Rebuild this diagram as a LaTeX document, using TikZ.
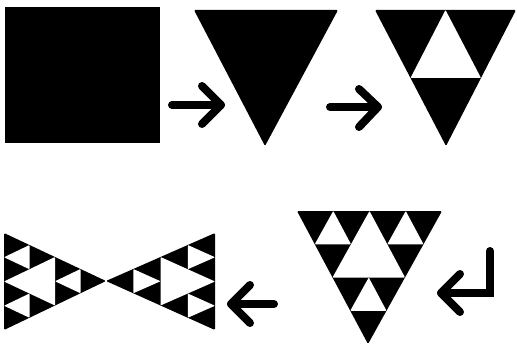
\documentclass[tikz,border=0pt]{standalone}
\usetikzlibrary{calc}
\newcommand\sierpBase[3]{%
  \fill[solidshape] (#1) -- (#2) -- (#3) -- cycle;
  \fill[holeshape] ($.5*(#1)+.5*(#2)$) -- ($.5*(#2)+.5*(#3)$) -- ($.5*(#3)+.5*(#1)$) -- cycle;
}
\newcommand\sierpTwo[3]{%
  \sierpBase{#1}{#2}{#3}%
  \foreach \p/\q/\r in {#1/#2/#3, #2/#3/#1, #3/#1/#2} {
    \fill[holeshape] ($.75*(\p)+.25*(\q)$) -- ($.75*(\p)+.25*(\r)$) -- ($.5*(\p)+.25*(\q)+.25*(\r)$) -- cycle;
  }%
}
\begin{document}
\begin{tikzpicture}[x=1pt,y=-1pt,
  solidshape/.style={fill=black, rounded corners=1.2pt},
  holeshape/.style={fill=white, rounded corners=0.8pt},
  arrowstroke/.style={draw=black, line width=8pt, line cap=round, line join=round}]
\useasboundingbox[fill=white] (0,0) rectangle (517,345);

% square
\coordinate (sqa) at (5,7);
\coordinate (sqb) at (160,143);
\fill[black] (sqa) rectangle (sqb);

% triangle 1 (solid)
\coordinate (t1a) at (194,10);
\coordinate (t1b) at (338,10);
\coordinate (t1c) at (265,146);
\fill[solidshape] (t1a) -- (t1b) -- (t1c) -- cycle;

% triangle 2 (order 1)
\coordinate (t2a) at (375,10);
\coordinate (t2b) at (516,10);
\coordinate (t2c) at (446,146);
\sierpBase{t2a}{t2b}{t2c}

% triangle 3 (order 2)
\coordinate (t3a) at (297,211);
\coordinate (t3b) at (442,211);
\coordinate (t3c) at (368,344);
\sierpTwo{t3a}{t3b}{t3c}

% bow tie (two order-2 triangles)
\coordinate (bla) at (4,233);
\coordinate (blb) at (4,330);
\coordinate (bm) at (106,281);
\coordinate (bra) at (215,233);
\coordinate (brb) at (215,330);
\sierpTwo{bla}{blb}{bm}
\sierpTwo{bra}{brb}{bm}

% arrow 1
\coordinate (a1s) at (172,105);
\coordinate (a1t) at (221,105);
\coordinate (a1u) at (202,86);
\coordinate (a1l) at (202,124);
\draw[arrowstroke] (a1s) -- (a1t);
\draw[arrowstroke] (a1u) -- (a1t) -- (a1l);

% arrow 2
\coordinate (a2s) at (330,107);
\coordinate (a2t) at (378,107);
\coordinate (a2u) at (359,89);
\coordinate (a2l) at (359,127);
\draw[arrowstroke] (a2s) -- (a2t);
\draw[arrowstroke] (a2u) -- (a2t) -- (a2l);

% hook arrow
\coordinate (hs) at (490,251);
\coordinate (hc) at (490,293);
\coordinate (ht) at (441,293);
\coordinate (hu) at (460,274);
\coordinate (hl) at (460,312);
\draw[arrowstroke, line join=miter] (hs) -- (hc) -- (ht);
\draw[arrowstroke] (hu) -- (ht) -- (hl);

% arrow 3 (left)
\coordinate (a3s) at (274,304);
\coordinate (a3t) at (231,304);
\coordinate (a3u) at (250,285);
\coordinate (a3l) at (250,323);
\draw[arrowstroke] (a3s) -- (a3t);
\draw[arrowstroke] (a3u) -- (a3t) -- (a3l);
\end{tikzpicture}
\end{document}
